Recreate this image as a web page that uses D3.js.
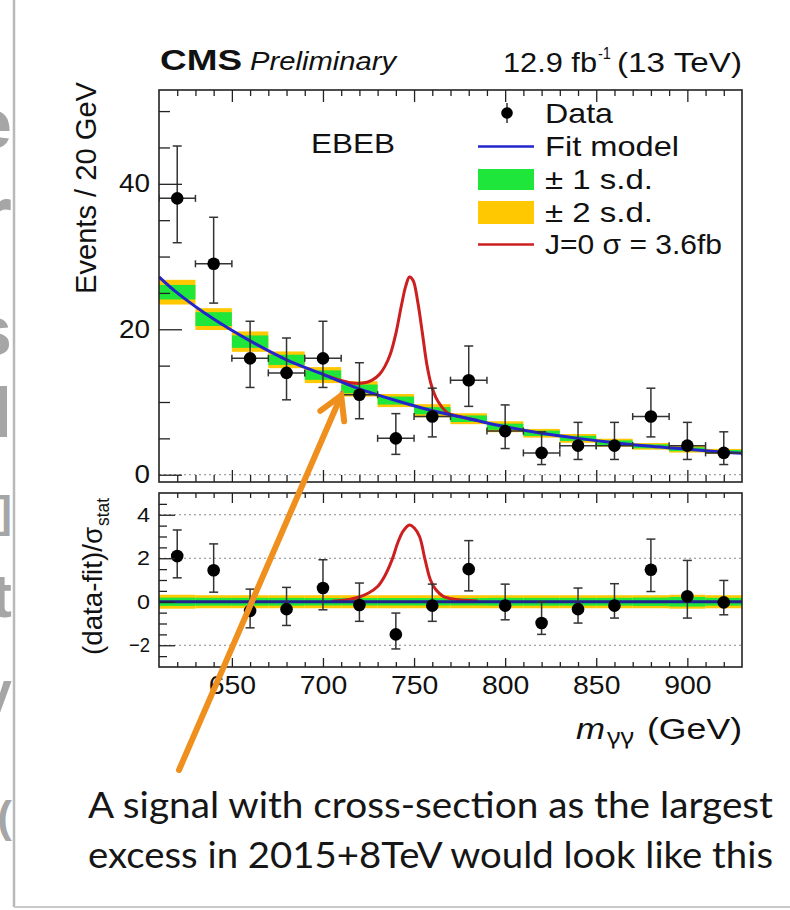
<!DOCTYPE html>
<html>
<head>
<meta charset="utf-8">
<script src="https://cdn.jsdelivr.net/npm/d3@7"></script>
<style>
  html, body { margin: 0; padding: 0; background: #ffffff; }
  svg { display: block; }
</style>
</head>
<body>
<svg id="chart" width="790" height="910"></svg>
<script>
// ---- diphoton mass spectrum, EBEB category ----
// bin centres (GeV), 20 GeV wide bins
const massBins = [620, 640, 660, 680, 700, 720, 740, 760, 780, 800, 820, 840, 860, 880, 900, 920];
const binHalfWidth = 10;
const events        = [38, 29, 16, 14, 16, 11, 5, 8, 13, 6, 3, 4, 4, 8, 4, 3];
const eventsErrUp   = [7.2, 6.4, 5.1, 4.8, 5.1, 4.4, 3.4, 3.9, 4.7, 3.6, 2.9, 3.2, 3.2, 3.9, 3.2, 2.9];
const eventsErrDown = [6.1, 5.4, 4.0, 3.7, 4.0, 3.3, 2.2, 2.8, 3.6, 2.4, 1.6, 1.9, 1.9, 2.8, 1.9, 1.6];

// background fit per bin with its ±1 / ±2 s.d. half-widths (events)
const fitPerBin   = [25.1, 21.4, 18.3, 15.8, 13.7, 11.8, 10.2, 8.8, 7.7, 6.6, 5.7, 5.0, 4.4, 3.9, 3.5, 3.2];
const band1Events = [1.0, 0.95, 0.85, 0.7, 0.65, 0.6, 0.55, 0.5, 0.45, 0.42, 0.36, 0.35, 0.32, 0.27, 0.26, 0.2];
const band2Events = [1.7, 1.5, 1.4, 1.15, 1.1, 1.05, 0.9, 0.9, 0.75, 0.75, 0.6, 0.6, 0.55, 0.45, 0.45, 0.35];

// fit model curve (events / 20 GeV)
const fitMass   = [610, 620, 640, 660, 680, 700, 720, 740, 760, 780, 800, 820, 840, 860, 880, 900, 920, 930];
const fitEvents = [27.2, 25.0, 21.4, 18.4, 15.8, 13.8, 11.8, 10.2, 8.8, 7.7, 6.6, 5.7, 5.0, 4.4, 3.9, 3.5, 3.1, 2.95];

// fit + J=0 signal, sigma = 3.6 fb (events / 20 GeV)
const sigMass   = [700, 710, 716, 722, 727, 731, 734, 737, 740, 743, 745.5, 747.5, 749.5, 752, 754.5, 757, 759.5, 762, 765, 769, 775, 785];
const sigEvents = [13.8, 12.95, 12.6, 12.6, 13.0, 13.8, 14.9, 16.6, 19.4, 23.2, 26.0, 27.2, 26.7, 23.8, 19.6, 15.2, 12.3, 10.6, 9.4, 8.4, 8.0, 7.45];

// lower panel: (data - fit) / sigma_stat
const pulls        = [2.1, 1.45, -0.42, -0.34, 0.63, -0.15, -1.5, -0.18, 1.5, -0.18, -0.98, -0.34, -0.18, 1.47, 0.25, -0.03];
const pullsErrUp   = [1.2, 1.21, 1.0, 1.0, 1.3, 1.01, 0.98, 0.99, 1.31, 0.99, 0.97, 0.97, 1.01, 1.41, 1.65, 1.01];
const pullsErrDown = [1.0, 1.01, 0.78, 0.75, 1.0, 0.75, 0.67, 0.72, 1.0, 0.65, 0.52, 0.64, 0.57, 1.0, 1.0, 0.57];
const band1Pull = [0.19, 0.18, 0.18, 0.18, 0.17, 0.17, 0.17, 0.17, 0.17, 0.18, 0.18, 0.18, 0.18, 0.19, 0.22, 0.18];
const band2Pull = [0.32, 0.3, 0.3, 0.3, 0.3, 0.3, 0.3, 0.3, 0.3, 0.3, 0.3, 0.3, 0.3, 0.3, 0.32, 0.3];
const fitPullMass = [610, 930];
const fitPull     = [0, 0];
const sigPullMass = [705, 715, 720, 725, 730, 734, 738, 741, 744, 747.5, 750, 753, 756, 759, 762, 766, 772, 785];
const sigPull     = [0.02, 0.12, 0.22, 0.4, 0.7, 1.2, 1.95, 2.7, 3.25, 3.53, 3.4, 3.0, 1.95, 1.0, 0.55, 0.25, 0.12, 0.04];

// axis tick labels
const xTickLabels     = [650, 700, 750, 800, 850, 900];
const mainYTickLabels = [0, 20, 40];
const pullTickLabels  = [-2, 0, 2, 4];

// faint letters of the slide text behind the figure (left edge)
const sideLetters     = ["e", "r", "s", "l", "]", "t", "V", "("];
const sideLetterBase  = [148, 248, 355, 437, 527, 617, 717, 832];
const sideLetterSize  = [70, 90, 70, 70, 44, 62, 52, 44];

// ---- styling ----
const FONT = "'Liberation Sans', Arial, Helvetica, sans-serif";
const GREEK = "'Noto Sans', 'DejaVu Sans', sans-serif";
const GREEN = "#1ee63a", YELLOW = "#ffc800", BLUE = "#2424cc", RED = "#cc1f1f", ORANGE = "#ef901e";
const INK = "#222";

const svg = d3.select("#chart");
svg.append("rect").attr("width", 790).attr("height", 910).attr("fill", "#fff");

const defs = svg.append("defs");
const x      = d3.scaleLinear().domain([610, 930]).range([159, 742]);
const yMain  = d3.scaleLinear().domain([-1.0, 52.9]).range([482, 90]);
const yPull  = d3.scaleLinear().domain([-3, 5]).range([667, 493]);

function clip(id, y0, y1) {
  defs.append("clipPath").attr("id", id).append("rect")
    .attr("x", x.range()[0]).attr("y", y0)
    .attr("width", x.range()[1] - x.range()[0]).attr("height", y1 - y0);
}
clip("clipMain", 90, 482);
clip("clipPull", 493, 667);
defs.append("clipPath").attr("id", "clipSide").append("rect")
  .attr("x", 0).attr("y", 0).attr("width", 13).attr("height", 910);

// ---- slide edge ----
const side = svg.append("g").attr("clip-path", "url(#clipSide)");
side.selectAll("text").data(sideLetters).join("text")
  .attr("x", 12).attr("y", (d, i) => sideLetterBase[i])
  .attr("text-anchor", "end")
  .attr("font-family", FONT).attr("font-weight", "bold")
  .attr("font-size", (d, i) => sideLetterSize[i])
  .attr("fill", "#a6a6a6")
  .text(d => d);
svg.append("line").attr("x1", 14).attr("x2", 14).attr("y1", 0).attr("y2", 907)
  .attr("stroke", "#b9b9b9").attr("stroke-width", 2.5);
svg.append("line").attr("x1", 14).attr("x2", 790).attr("y1", 907).attr("y2", 907)
  .attr("stroke", "#c9c9c9").attr("stroke-width", 2);

function stretch(sel, w) {
  sel.attr("textLength", w).attr("lengthAdjust", "spacingAndGlyphs");
}
function label(txt, xx, yy, size, opts = {}) {
  const t = svg.append("text").attr("x", xx).attr("y", yy)
    .attr("font-family", opts.family || FONT).attr("font-size", size).attr("fill", opts.fill || "#111")
    .attr("text-anchor", opts.anchor || "start")
    .text(txt);
  if (opts.weight) t.attr("font-weight", opts.weight);
  if (opts.style) t.attr("font-style", opts.style);
  if (opts.width) stretch(t, opts.width);
  return t;
}

// ---- header ----
label("CMS", 160, 70, 29, { weight: "bold", width: 82 });
label("Preliminary", 250, 70, 25, { style: "italic", width: 146 });
label("12.9 fb", 503, 72, 27, { width: 94 });
label("-1", 598, 59, 17, { width: 13 });
label("(13 TeV)", 617, 72, 27, { width: 125 });

// ---- upper panel ----
const main = svg.append("g").attr("clip-path", "url(#clipMain)");
main.append("line")
  .attr("x1", x(610)).attr("x2", x(930)).attr("y1", yMain(0)).attr("y2", yMain(0))
  .attr("stroke", "#888").attr("stroke-width", 1).attr("stroke-dasharray", "2,3");

function bands(g, yS, centre, halfWidth, colour) {
  g.append("g").selectAll("rect").data(massBins).join("rect")
    .attr("x", d => x(d - binHalfWidth))
    .attr("width", d => x(d + binHalfWidth) - x(d - binHalfWidth))
    .attr("y", (d, i) => yS(centre[i] + halfWidth[i]))
    .attr("height", (d, i) => yS(centre[i] - halfWidth[i]) - yS(centre[i] + halfWidth[i]))
    .attr("fill", colour);
}
bands(main, yMain, fitPerBin, band2Events, YELLOW);
bands(main, yMain, fitPerBin, band1Events, GREEN);

const lineMain = d3.line().x(d => x(d[0])).y(d => yMain(d[1])).curve(d3.curveCatmullRom);
main.append("path").datum(d3.zip(sigMass, sigEvents)).attr("d", lineMain)
  .attr("fill", "none").attr("stroke", RED).attr("stroke-width", 3);
main.append("path").datum(d3.zip(fitMass, fitEvents)).attr("d", lineMain)
  .attr("fill", "none").attr("stroke", BLUE).attr("stroke-width", 3);

function errorBars(g, yS, vals, up, down, withX) {
  const eb = g.append("g").attr("stroke", "#333").attr("stroke-width", 1.5);
  massBins.forEach((m, i) => {
    const cx = x(m), cy = yS(vals[i]), y1 = yS(vals[i] + up[i]), y2 = yS(vals[i] - down[i]);
    eb.append("line").attr("x1", cx).attr("x2", cx).attr("y1", y1).attr("y2", y2);
    eb.append("line").attr("x1", cx - 4.5).attr("x2", cx + 4.5).attr("y1", y1).attr("y2", y1);
    eb.append("line").attr("x1", cx - 4.5).attr("x2", cx + 4.5).attr("y1", y2).attr("y2", y2);
    if (withX) {
      const xa = x(m - binHalfWidth), xb = x(m + binHalfWidth);
      eb.append("line").attr("x1", xa).attr("x2", xb).attr("y1", cy).attr("y2", cy);
      eb.append("line").attr("x1", xa).attr("x2", xa).attr("y1", cy - 3.5).attr("y2", cy + 3.5);
      eb.append("line").attr("x1", xb).attr("x2", xb).attr("y1", cy - 3.5).attr("y2", cy + 3.5);
    }
  });
  g.append("g").selectAll("circle").data(massBins).join("circle")
    .attr("cx", d => x(d)).attr("cy", (d, i) => yS(vals[i])).attr("r", 6.3).attr("fill", "#000");
}
errorBars(main, yMain, events, eventsErrUp, eventsErrDown, true);

label("EBEB", 311, 153, 27, { width: 84 });

// legend
const lg = svg.append("g");
const legendRows = [113, 146.5, 179.5, 212.5, 244.5];
const legendText = ["Data", "Fit model", "\u00b1 1 s.d.", "\u00b1 2 s.d.", "J=0 \u03c3 = 3.6fb"];
const legendWidth = [68, 134, 108, 108, 177];
lg.append("line").attr("x1", 507).attr("x2", 507).attr("y1", 103).attr("y2", 123)
  .attr("stroke", "#333").attr("stroke-width", 1.5);
lg.append("circle").attr("cx", 507).attr("cy", legendRows[0]).attr("r", 5.8).attr("fill", "#000");
lg.append("line").attr("x1", 478).attr("x2", 534).attr("y1", legendRows[1]).attr("y2", legendRows[1])
  .attr("stroke", BLUE).attr("stroke-width", 2.5);
lg.append("rect").attr("x", 478).attr("width", 56).attr("y", 169).attr("height", 21).attr("fill", GREEN);
lg.append("rect").attr("x", 478).attr("width", 56).attr("y", 201).attr("height", 23).attr("fill", YELLOW);
lg.append("line").attr("x1", 478).attr("x2", 534).attr("y1", legendRows[4]).attr("y2", legendRows[4])
  .attr("stroke", RED).attr("stroke-width", 2.5);
legendText.forEach((t, i) => label(t, 545, legendRows[i] + 9.5, 28, { width: legendWidth[i] }));

// ---- lower panel ----
const pull = svg.append("g").attr("clip-path", "url(#clipPull)");
pullTickLabels.forEach(v => {
  pull.append("line").attr("x1", x(610)).attr("x2", x(930)).attr("y1", yPull(v)).attr("y2", yPull(v))
    .attr("stroke", "#888").attr("stroke-width", 1).attr("stroke-dasharray", "2,3");
});
const zeroPull = massBins.map(() => 0);
bands(pull, yPull, zeroPull, band2Pull, YELLOW);
bands(pull, yPull, zeroPull, band1Pull, GREEN);
const linePull = d3.line().x(d => x(d[0])).y(d => yPull(d[1])).curve(d3.curveCatmullRom);
pull.append("path").datum(d3.zip(sigPullMass, sigPull)).attr("d", linePull)
  .attr("fill", "none").attr("stroke", RED).attr("stroke-width", 3);
pull.append("path").datum(d3.zip(fitPullMass, fitPull)).attr("d", linePull)
  .attr("fill", "none").attr("stroke", "#22228f").attr("stroke-width", 3);
errorBars(pull, yPull, pulls, pullsErrUp, pullsErrDown, false);

// ---- axes and ticks ----
function tickRow(axisGen, scale, values, size, tx, ty) {
  const a = svg.append("g").attr("transform", `translate(${tx},${ty})`)
    .call(axisGen(scale).tickValues(values).tickSize(size).tickFormat(""));
  a.select(".domain").remove();
  a.selectAll("line").attr("stroke", INK).attr("stroke-width", 1.3);
}
const xMinor = d3.range(620, 930, 10).filter(v => v % 50 !== 0);
const mainYMinor = d3.range(5, 55, 5).filter(v => v % 20 !== 0);
const pullMinor = d3.range(-2.5, 5, 0.5).filter(v => v % 2 !== 0);

// upper panel
tickRow(d3.axisRight, yMain, mainYTickLabels, 23, 159, 0);
tickRow(d3.axisRight, yMain, mainYMinor, 11, 159, 0);
tickRow(d3.axisBottom, x, xTickLabels, 12, 0, 90);
tickRow(d3.axisBottom, x, xMinor, 6, 0, 90);
tickRow(d3.axisTop, x, xTickLabels, 12, 0, 482);
tickRow(d3.axisTop, x, xMinor, 7, 0, 482);
// lower panel
tickRow(d3.axisRight, yPull, pullTickLabels, 16, 159, 0);
tickRow(d3.axisRight, yPull, pullMinor, 8, 159, 0);
tickRow(d3.axisBottom, x, xTickLabels, 10, 0, 493);
tickRow(d3.axisBottom, x, xMinor, 5, 0, 493);
tickRow(d3.axisTop, x, xTickLabels, 9, 0, 667);
tickRow(d3.axisTop, x, xMinor, 5, 0, 667);

function tickLabels(axisGen, scale, values, tx, ty, size, widthOf) {
  const a = svg.append("g").attr("transform", `translate(${tx},${ty})`)
    .call(axisGen(scale).tickValues(values).tickSize(0).tickPadding(9).tickFormat(d3.format("d")));
  a.select(".domain").remove();
  a.attr("font-family", FONT).attr("font-size", size);
  a.selectAll("text").attr("fill", "#111").each(function (d) { stretch(d3.select(this), widthOf(String(d))); });
  return a;
}
const yl = tickLabels(d3.axisLeft, yMain, mainYTickLabels, 159, 0, 25, s => s.length * 15.5);
const pl = tickLabels(d3.axisLeft, yPull, pullTickLabels, 159, 0, 21, s => s.length === 2 ? 21 : 13);
const xl = tickLabels(d3.axisBottom, x, xTickLabels, 0, 667, 25, s => s.length * 15.8);
xl.selectAll("text").attr("y", 27).attr("dy", null);

// frames
[[90, 482], [493, 667]].forEach(([t, b]) => {
  svg.append("rect").attr("x", x(610)).attr("y", t)
    .attr("width", x(930) - x(610)).attr("height", b - t)
    .attr("fill", "none").attr("stroke", INK).attr("stroke-width", 1.6);
});

// axis titles
const yt = svg.append("g").attr("transform", "translate(96,82) rotate(-90)");
stretch(yt.append("text").attr("text-anchor", "end").attr("font-family", FONT).attr("font-size", 29)
  .attr("fill", "#111").text("Events / 20 GeV"), 212);
const pt = svg.append("g").attr("transform", "translate(102,498) rotate(-90)");
stretch(pt.append("text").attr("x", -29).attr("text-anchor", "end").attr("font-family", FONT)
  .attr("font-size", 28).attr("fill", "#111").text("(data-fit)/\u03c3"), 128);
stretch(pt.append("text").attr("x", -28).attr("y", 7).attr("font-family", FONT)
  .attr("font-size", 19).attr("fill", "#111").text("stat"), 28);

label("m", 576, 739, 30, { style: "italic", width: 29 });
label("\u03b3\u03b3", 607, 744, 21, { width: 27, family: GREEK });
label("(GeV)", 647, 739, 29, { width: 95 });

// ---- caption and arrow ----
const CAPTION_FONT = "Lato, 'Open Sans', 'Liberation Sans', sans-serif";
[["A signal with cross-section as the largest", 818], ["excess in 2015+8TeV would look like this", 868]]
  .forEach(([t, yy]) => {
    stretch(svg.append("text").attr("x", 88).attr("y", yy).attr("font-family", CAPTION_FONT)
      .attr("font-size", 36).attr("fill", "#161616").text(t), 685);
  });

const tail = [179, 770];
const tip = [x(710), yMain(10.9)];
const dx = tail[0] - tip[0], dy = tail[1] - tip[1], len = Math.hypot(dx, dy);
const ux = dx / len, uy = dy / len, wing = 26, ang = Math.PI / 6;
const w1 = [tip[0] + wing * (ux * Math.cos(ang) - uy * Math.sin(ang)), tip[1] + wing * (ux * Math.sin(ang) + uy * Math.cos(ang))];
const w2 = [tip[0] + wing * (ux * Math.cos(-ang) - uy * Math.sin(-ang)), tip[1] + wing * (ux * Math.sin(-ang) + uy * Math.cos(-ang))];
svg.append("line").attr("x1", tail[0]).attr("y1", tail[1]).attr("x2", tip[0]).attr("y2", tip[1])
  .attr("stroke", ORANGE).attr("stroke-width", 6).attr("stroke-linecap", "round");
svg.append("path").attr("d", d3.line()([w1, tip, w2]))
  .attr("fill", "none").attr("stroke", ORANGE).attr("stroke-width", 6)
  .attr("stroke-linejoin", "miter").attr("stroke-linecap", "round");
</script>
</body>
</html>
